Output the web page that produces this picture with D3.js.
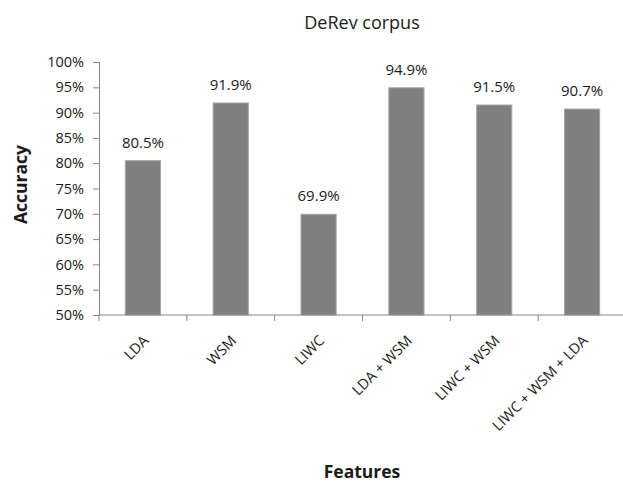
<!DOCTYPE html>
<html>
<head>
<meta charset="utf-8">
<script src="https://cdn.jsdelivr.net/npm/d3@7"></script>
<style>
  body { margin: 0; background: #fff; }
  svg text { font-family: "Open Sans", sans-serif; fill: #1a1a1a; }
</style>
</head>
<body>
<div id="chart"></div>
<script>
// données
const categories = ["LDA", "WSM", "LIWC", "LDA + WSM", "LIWC + WSM", "LIWC + WSM + LDA"];
const accuracy = [80.5, 91.9, 69.9, 94.9, 91.5, 90.7];
const yTicks = [50, 55, 60, 65, 70, 75, 80, 85, 90, 95, 100];

const W = 623, H = 482;
const margin = { top: 62, right: -3, bottom: 167, left: 99 };
const width = W - margin.left - margin.right;   // 527 -> 6 bandes de ~88px
const height = H - margin.top - margin.bottom;

const svg = d3.select("#chart").append("svg")
    .attr("width", W)
    .attr("height", H);

const g = svg.append("g")
    .attr("transform", `translate(${margin.left},${margin.top})`);

const x = d3.scaleBand()
    .domain(categories)
    .range([0, width])
    .paddingInner(0.6)
    .paddingOuter(0.3);

const y = d3.scaleLinear()
    .domain([50, 100])
    .range([height, 0]);

// Titre
svg.append("text")
    .attr("x", margin.left + 263)
    .attr("y", 29)
    .attr("text-anchor", "middle")
    .attr("font-size", "18px")
    .text("DeRev corpus");

// Barres
g.selectAll(".bar")
    .data(accuracy)
    .enter()
    .append("rect")
    .attr("class", "bar")
    .attr("x", (d, i) => x(categories[i]))
    .attr("y", d => y(d))
    .attr("width", x.bandwidth())
    .attr("height", d => y(50) - y(d))
    .attr("fill", "#7f7f7f")
    .attr("stroke", "#a3a3a3")
    .attr("stroke-width", 1);

// Étiquettes de valeur
g.selectAll(".val")
    .data(accuracy)
    .enter()
    .append("text")
    .attr("class", "val")
    .attr("x", (d, i) => x(categories[i]) + x.bandwidth() / 2)
    .attr("y", d => y(d) - 13)
    .attr("text-anchor", "middle")
    .attr("font-size", "15px")
    .text(d => d.toFixed(1) + "%");

// Axe Y
const yAxis = g.append("g")
    .call(d3.axisLeft(y)
        .tickValues(yTicks)
        .tickFormat(d => d + "%")
        .tickSize(6)
        .tickPadding(9));
yAxis.selectAll("path, line").attr("stroke", "#868686");
yAxis.selectAll("text").attr("font-size", "14.5px").attr("fill", "#1a1a1a");

// Axe X : ligne de base + graduations entre les catégories
g.append("line")
    .attr("x1", 0).attr("x2", width)
    .attr("y1", height).attr("y2", height)
    .attr("stroke", "#868686");

g.selectAll(".xtick")
    .data(d3.range(categories.length + 1))
    .enter()
    .append("line")
    .attr("class", "xtick")
    .attr("x1", d => d * width / categories.length)
    .attr("x2", d => d * width / categories.length)
    .attr("y1", height)
    .attr("y2", height + 6)
    .attr("stroke", "#868686");

// Libellés inclinés
g.selectAll(".xlab")
    .data(categories)
    .enter()
    .append("text")
    .attr("class", "xlab")
    .attr("text-anchor", "end")
    .attr("font-size", "14.5px")
    .attr("transform", d => `translate(${x(d) + x.bandwidth() / 2 + 3},${height + 23}) rotate(-45)`)
    .attr("dy", "0.35em")
    .text(d => d);

// Titres des axes
svg.append("text")
    .attr("transform", `translate(21,${margin.top + height / 2 - 4}) rotate(-90)`)
    .attr("text-anchor", "middle")
    .attr("dy", "0.35em")
    .attr("font-size", "17.5px")
    .attr("font-weight", "bold")
    .text("Accuracy");

svg.append("text")
    .attr("x", margin.left + 263)
    .attr("y", 478)
    .attr("text-anchor", "middle")
    .attr("font-size", "17.5px")
    .attr("font-weight", "bold")
    .text("Features");
</script>
</body>
</html>
